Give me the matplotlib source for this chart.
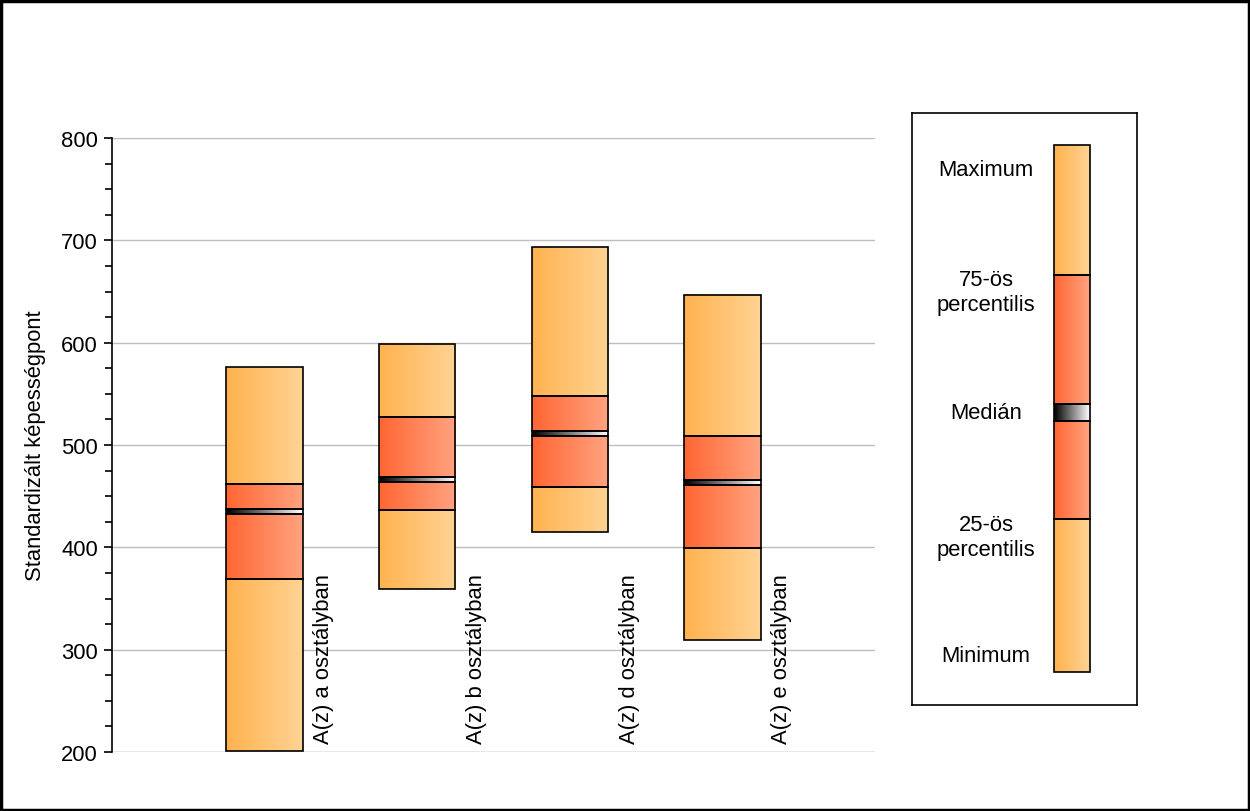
import matplotlib.pyplot as plt
import numpy as np
from matplotlib.patches import Rectangle
from matplotlib.ticker import MultipleLocator

plt.rcParams["font.family"] = ["Liberation Sans", "DejaVu Sans"]

groups = ["A(z) a osztályban", "A(z) b osztályban", "A(z) d osztályban", "A(z) e osztályban"]
minimum = [201, 359, 415, 309]
q1 = [369, 436, 459, 399]
median = [435, 466, 511, 463]
q3 = [462, 527, 548, 509]
maximum = [576, 599, 693, 647]

legend_labels = ["Maximum", "75-ös\npercentilis", "Medián", "25-ös\npercentilis", "Minimum"]

LIGHT = ("#FFB24F", "#FFD394")
DARK = ("#FF6633", "#FFA380")
MED = ("#000000", "#FFFFFF")
FS = 15.8


def _gradient(ax, x0, x1, y0, y1, colors, lw=1.2):
    c0 = np.array(plt.matplotlib.colors.to_rgb(colors[0]))
    c1 = np.array(plt.matplotlib.colors.to_rgb(colors[1]))
    t = np.linspace(0, 1, 64)[None, :, None]
    img = c0 + (c1 - c0) * t
    ax.imshow(img, extent=(x0, x1, y0, y1), aspect="auto", origin="lower",
              interpolation="bicubic", zorder=2)
    ax.add_patch(Rectangle((x0, y0), x1 - x0, y1 - y0, fill=False,
                           edgecolor="black", lw=lw, zorder=3))


fig = plt.figure(figsize=(12.5, 8.12), dpi=100)
fig.patches.append(Rectangle((0.001, 0.001), 0.998, 0.997, transform=fig.transFigure,
                             fill=False, edgecolor="black", lw=2.5))

ax = fig.add_axes([112 / 1250, 59 / 812, 763 / 1250, 614 / 812])
half = 0.25
band = 2.4
for i, name in enumerate(groups):
    x = i + 1
    _gradient(ax, x - half, x + half, minimum[i], q1[i], LIGHT)
    _gradient(ax, x - half, x + half, q1[i], median[i] - band, DARK)
    _gradient(ax, x - half, x + half, median[i] - band, median[i] + band, MED)
    _gradient(ax, x - half, x + half, median[i] + band, q3[i], DARK)
    _gradient(ax, x - half, x + half, q3[i], maximum[i], LIGHT)
    ax.text(x + 0.32, 209, name, rotation=90, ha="left", va="bottom", fontsize=FS)

ax.set_xlim(0, 5)
ax.set_ylim(200, 800)
ax.set_yticks(range(200, 801, 100))
ax.yaxis.set_minor_locator(MultipleLocator(25))
ax.set_xticks([])
ax.yaxis.grid(True, color="#BEBEBE", lw=1)
ax.set_axisbelow(True)
for s in ["top", "right", "bottom"]:
    ax.spines[s].set_visible(False)
ax.spines["left"].set_linewidth(1.2)
ax.tick_params(axis="y", which="major", direction="out", length=6, width=1.2, labelsize=FS, pad=4)
ax.tick_params(axis="y", which="minor", direction="out", length=5, width=1.2)
ax.set_ylabel("Standardizált képességpont", fontsize=FS, labelpad=11)
ax.axhline(200, color="#BEBEBE", lw=1, zorder=1)

# legend panel
lg = fig.add_axes([912 / 1250, (812 - 706) / 812, 225 / 1250, 592 / 812])
lg.set_xticks([])
lg.set_yticks([])
for s in lg.spines.values():
    s.set_linewidth(1.2)
bx0, bx1 = 142, 178
_gradient(lg, bx0, bx1, 406, 559, LIGHT)
_gradient(lg, bx0, bx1, 308, 406, DARK)
_gradient(lg, bx0, bx1, 291, 308, MED)
_gradient(lg, bx0, bx1, 162, 291, DARK)
_gradient(lg, bx0, bx1, 32, 162, LIGHT)
lg.set_ylim(592, 0)
lg.set_xlim(0, 225)
for label, y in zip(legend_labels, [57, 179, 300, 424, 543]):
    lg.text(74, y, label, ha="center", va="center", fontsize=FS, linespacing=1.2)

fig.savefig("out.png", dpi=100)
